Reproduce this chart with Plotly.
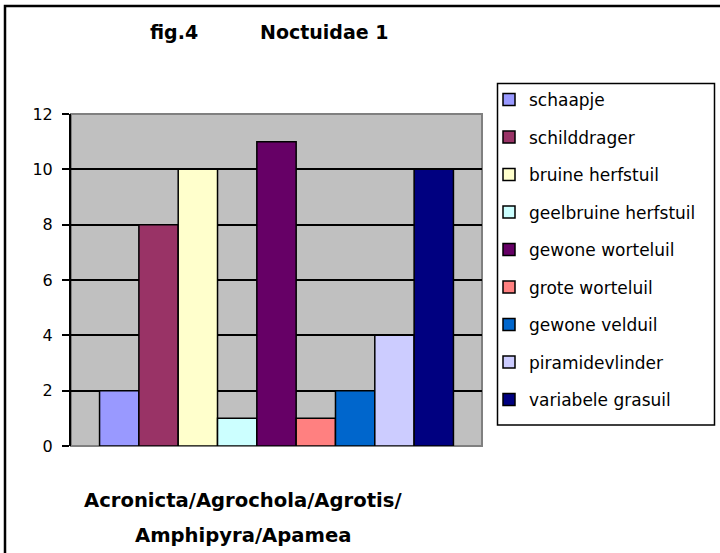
import plotly.graph_objects as go

category_line1 = "Acronicta/Agrochola/Agrotis/"
category_line2 = "Amphipyra/Apamea"
title_part1 = "fig.4"
title_part2 = "Noctuidae 1"
species = ["schaapje", "schilddrager", "bruine herfstuil", "geelbruine herfstuil",
           "gewone worteluil", "grote worteluil", "gewone velduil",
           "piramidevlinder", "variabele grasuil"]
counts = [2, 8, 10, 1, 11, 1, 2, 4, 10]
colors = ["#9999FF", "#993366", "#FFFFCC", "#CCFFFF", "#660066",
          "#FF8080", "#0066CC", "#CCCCFF", "#000080"]
y_ticks = [0, 2, 4, 6, 8, 10, 12]

W, H = 720, 553
L, R, T, B = 71, 482, 114, 446  # plot area pixel bounds
pw, ph = R - L, B - T

def px(x):
    return (x - L) / pw

def py(y):
    return (B - y) / ph

FONT = "DejaVu Sans, Liberation Sans, Arial, sans-serif"

fig = go.Figure()
for name, v, c in zip(species, counts, colors):
    fig.add_trace(go.Bar(
        x=[category_line1 + category_line2], y=[v], name=name, legendgroup=name,
        marker=dict(color=c, line=dict(color="black", width=1.5)),
    ))

fig.update_layout(
    width=W, height=H,
    margin=dict(l=L, r=W - R, t=T, b=H - B, autoexpand=False),
    paper_bgcolor="white", plot_bgcolor="#C0C0C0",
    barmode="group", bargap=0.139, bargroupgap=0,
    font=dict(family=FONT, color="black", size=16),
    showlegend=True,
    legend=dict(
        x=px(489), xanchor="left", y=py(82), yanchor="top",
        bgcolor="rgba(0,0,0,0)", borderwidth=0,
        font=dict(family=FONT, size=17, color="black"),
        tracegroupgap=12.4, itemclick=False, maxheight=500,
    ),
    xaxis=dict(showticklabels=False, ticks="", showgrid=False, showline=False,
               zeroline=False),
    yaxis=dict(range=[0, 12], tickvals=y_ticks, ticktext=[str(t) for t in y_ticks],
               ticks="outside", ticklen=7, tickwidth=1.5, tickcolor="black",
               ticklabelstandoff=6,
               showline=True, linecolor="black", linewidth=2,
               showgrid=True, gridcolor="black", gridwidth=1.5,
               zeroline=False, tickfont=dict(size=16, family=FONT)),
)

shapes = [
    # plot area border (gray)
    dict(type="rect", xref="paper", yref="paper", x0=0, x1=1, y0=0, y1=1,
         line=dict(color="#808080", width=2), layer="below"),
    # legend box
    dict(type="rect", xref="paper", yref="paper", x0=px(497.5), x1=px(714.5),
         y0=py(425), y1=py(83.5), line=dict(color="black", width=1.5)),
    # outer chart frame (extends beyond the visible window right/bottom)
    dict(type="rect", xref="paper", yref="paper", x0=px(5), x1=px(760),
         y0=py(600), y1=py(6), line=dict(color="black", width=2.5)),
]
fig.update_layout(shapes=shapes)

for txt, xx in [(title_part1, 148), (title_part2, 258)]:
    fig.add_annotation(
        text="<b>" + txt + "</b>",
        xref="paper", yref="paper", x=px(xx), y=py(32),
        xanchor="left", yanchor="middle", showarrow=False,
        font=dict(family=FONT, size=19, color="black"),
    )
for txt, yy in [(category_line1, 500), (category_line2, 535)]:
    fig.add_annotation(
        text="<b>" + txt + "</b>",
        xref="paper", yref="paper", x=px(242.5), y=py(yy),
        xanchor="center", yanchor="middle", showarrow=False,
        font=dict(family=FONT, size=19.6, color="black"),
    )

fig.write_html("out.html", config={"displayModeBar": False},
               post_script="document.body.style.margin='0';")
